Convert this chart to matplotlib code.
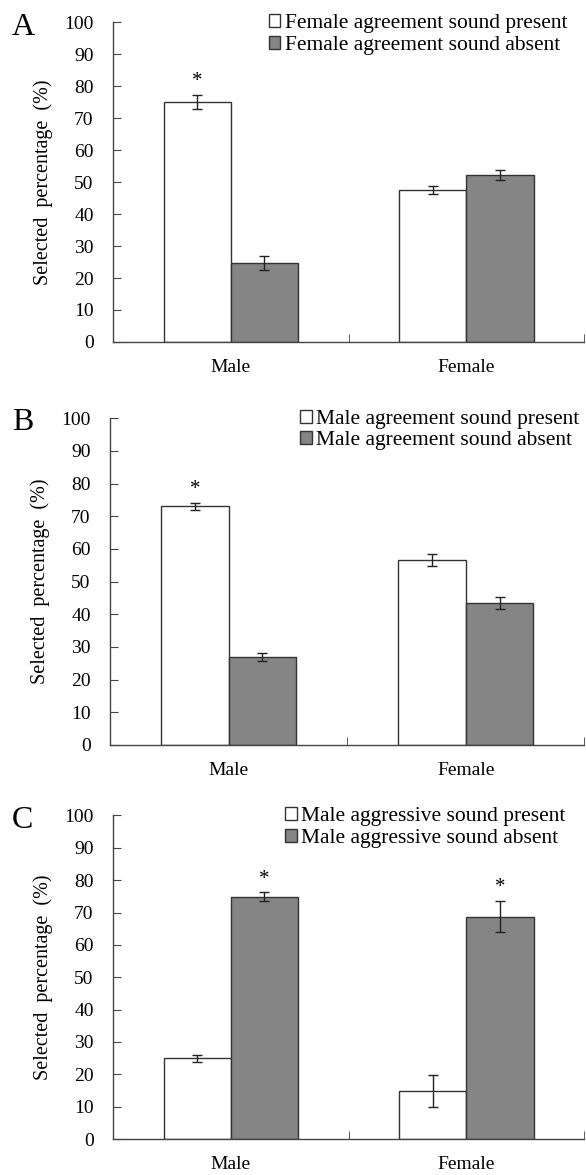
import numpy as np
import matplotlib.pyplot as plt

plt.rcParams['font.family'] = ['Liberation Serif', 'DejaVu Serif']

# categories on the x axis
groups = ['Male', 'Female']

# panel A
a_present = [75.0, 47.5]
a_present_err = [2.2, 1.3]
a_absent = [24.7, 52.3]
a_absent_err = [2.3, 1.5]
a_labels = ['Female agreement sound present', 'Female agreement sound absent']

# panel B
b_present = [73.1, 56.7]
b_present_err = [1.1, 1.8]
b_absent = [27.0, 43.4]
b_absent_err = [1.2, 1.8]
b_labels = ['Male agreement sound present', 'Male agreement sound absent']

# panel C
c_present = [25.0, 14.9]
c_present_err = [1.1, 4.9]
c_absent = [74.9, 68.7]
c_absent_err = [1.3, 4.8]
c_labels = ['Male aggressive sound present', 'Male aggressive sound absent']

# significance stars: (group index, 0=present / 1=absent)
a_stars = [(0, 0)]
b_stars = [(0, 0)]
c_stars = [(0, 1), (1, 1)]

fig = plt.figure(figsize=(5.86, 11.75), dpi=100)

# axes boxes in figure fractions
boxes = [
    [0.193, 0.709, 0.804, 0.272],
    [0.188, 0.366, 0.809, 0.278],
    [0.193, 0.0306, 0.804, 0.2754],
]
panels = [
    ('A', a_present, a_present_err, a_absent, a_absent_err, a_labels, a_stars, 0.964),
    ('B', b_present, b_present_err, b_absent, b_absent_err, b_labels, b_stars, 0.99),
    ('C', c_present, c_present_err, c_absent, c_absent_err, c_labels, c_stars, 0.96),
]

x = np.arange(len(groups))
w = 0.285
edge = '#333333'

for box, (letter, pres, pres_err, absn, absn_err, labels, stars, leg_x) in zip(boxes, panels):
    ax = fig.add_axes(box)
    ax.bar(x - w / 2, pres, w, color='white', edgecolor=edge, linewidth=1.0, label=labels[0])
    ax.bar(x + w / 2, absn, w, color='#858585', edgecolor=edge, linewidth=1.0, label=labels[1])
    ax.errorbar(x - w / 2, pres, yerr=pres_err, fmt='none', ecolor='#222222',
                elinewidth=1.0, capsize=3.5, capthick=1.0)
    ax.errorbar(x + w / 2, absn, yerr=absn_err, fmt='none', ecolor='#222222',
                elinewidth=1.0, capsize=3.5, capthick=1.0)

    for gi, si in stars:
        if si == 0:
            xs, top = x[gi] - w / 2, pres[gi] + pres_err[gi]
        else:
            xs, top = x[gi] + w / 2, absn[gi] + absn_err[gi]
        ax.text(xs, top + 1.2, '*', ha='center', va='bottom', fontsize=15)

    ax.set_xlim(-0.5, 1.5)
    ax.set_ylim(0, 100)
    ax.set_yticks(np.arange(0, 101, 10))
    ax.set_xticks(x)
    ax.set_xticklabels(groups)
    ax.set_xticks([0.5, 1.5], minor=True)
    ax.tick_params(axis='x', which='major', length=0, pad=12, labelsize=14)
    ax.tick_params(axis='x', which='minor', direction='in', length=6, color='#444444')
    ax.tick_params(axis='y', direction='in', length=6, color='#444444', pad=14, labelsize=14)
    for s in ['top', 'right']:
        ax.spines[s].set_visible(False)
    for s in ['left', 'bottom']:
        ax.spines[s].set_color('#444444')
        ax.spines[s].set_linewidth(1.0)
    ax.set_ylabel('Selected  percentage  (%)', fontsize=14.5, labelpad=8)

    ax.legend(loc='upper right', bbox_to_anchor=(leg_x, 1.025), frameon=False,
              fontsize=15.5, handlelength=0.55, handleheight=0.55, handletextpad=0.2,
              labelspacing=0.1, borderpad=0, borderaxespad=0)

    pos = ax.get_position()
    fig.text(0.02, pos.y1 - 0.004, letter, fontsize=23, va='center', ha='left')

fig.savefig('out.png', dpi=100)
